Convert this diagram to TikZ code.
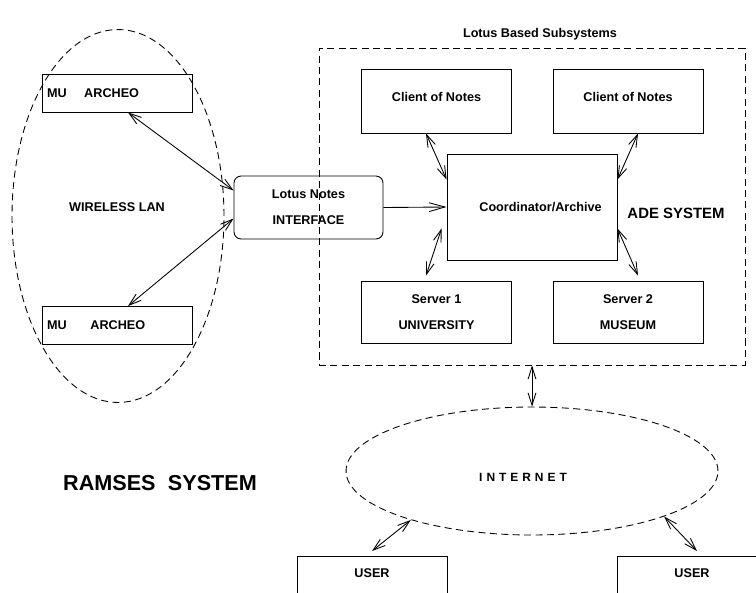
\documentclass[tikz,border=0pt]{standalone}
\usepackage{fontspec}
\setmainfont{Liberation Sans}
\usetikzlibrary{shapes.geometric,arrows.meta,calc}
\newcommand{\txtS}{\fontsize{6.8}{8}\selectfont\bfseries}
\newcommand{\txtM}{\fontsize{7.2}{8.6}\selectfont\bfseries}
\newcommand{\txtL}{\fontsize{8.5}{10}\selectfont\bfseries}
\newcommand{\txtXL}{\fontsize{12.3}{14}\selectfont\bfseries}
\tikzset{
  nd_box/.style={
    rectangle, draw, line width=0.5pt,
    minimum width=3cm, align=center,
    inner sep=1pt, font=\txtM},
  nd_mu/.style={
    rectangle, draw, line width=0.5pt,
    minimum height=0.76cm, text width=2.8cm, inner xsep=0.1cm,
    align=left, font=\txtM},
  nd_if/.style={
    nd_box, rounded corners=4pt,
    minimum width=2.98cm, minimum height=1.26cm},
  nd_user/.style={
    nd_box, anchor=north, text height=11.2pt, text depth=30pt},
  nd_cloud/.style={
    ellipse, draw, line width=0.5pt,
    dash pattern=on 4pt off 2.5pt, inner sep=0pt},
  nd_area/.style={
    rectangle, draw, line width=0.5pt,
    dash pattern=on 4pt off 2.5pt, inner sep=0pt,
    minimum width=8.52cm, minimum height=6.34cm},
  nd_txt/.style={inner sep=0pt, font=\txtM},
  arr/.style={-{Straight Barb[length=9pt,width=5pt]},line width=0.5pt},
  dbl/.style={{Straight Barb[length=7pt,width=4.5pt]}-{Straight Barb[length=7pt,width=4.5pt]},line width=0.5pt},
}

\begin{document}
\begin{tikzpicture}[x=0.02cm,y=-0.02cm]

\useasboundingbox (0,0) rectangle (756,592);
\clip (0,0) rectangle (756,592);

%% wireless side
\node[nd_cloud, minimum width=4.24cm, minimum height=7.46cm] at (118,216) (WL){};
\node[nd_txt] at (117,207) (WLt){WIRELESS LAN};
\node[nd_mu] at (117,93)    (MU1){MU\hspace{10pt}ARCHEO};
\node[nd_mu] at (117,325.5) (MU2){MU\hspace{13.5pt}ARCHEO};
\node[nd_if] at (308.5,207.5) (IF){Lotus Notes\\[6pt]INTERFACE};

%% lotus subsystems
\node[nd_area] at (532,206.5) (ADE){};
\node[nd_txt] at (540,34) (ADEt){Lotus Based Subsystems};
\node[nd_txt, font=\txtL] at (676,213) (ADEs){ADE SYSTEM};
\node[nd_box, minimum height=1.28cm, text depth=4.5pt] at (436.5,101) (CL1){Client of Notes};
\node[nd_box, minimum height=1.28cm, text depth=4.5pt] at (628,101)   (CL2){Client of Notes};
\node[nd_box, minimum width=3.4cm, minimum height=2.12cm] at (532,207) (CO){\hspace{9.7pt}Coordinator/Archive};
\node[nd_box, minimum height=1.24cm] at (436.5,312) (SV1){Server 1\\[6pt]UNIVERSITY};
\node[nd_box, minimum height=1.24cm] at (628,312)   (SV2){Server 2\\[6pt]MUSEUM};

%% internet
\node[nd_cloud, minimum width=7.44cm, minimum height=2.56cm] at (532,471) (NET){};
\node[nd_txt, font=\txtS] at (523,477) (NETt){I\,\,N\,\,T\,\,E\,\,R\,\,N\,\,E\,\,T};
\node[nd_user] at (372,556) (US1){USER};
\node[nd_user] at (692,556) (US2){USER};

\node[nd_txt, font=\txtXL] at (160,483) (RAM){RAMSES\hspace{7pt}SYSTEM};

%% connectors
\draw[dbl] ($(MU1.south)+(11,0)$) -- ($(IF.west)+(0,-17)$);
\draw[dbl] ($(MU2.north)+(11,0)$) -- ($(IF.west)+(0,11)$);
\draw[arr] (IF.east) -- (CO.west);

\draw[dbl] ($(CL1.south)+(-10.5,0)$) -- ($(CO.north west)+(0,26)$);
\draw[dbl] ($(CL2.south)+(10,0)$)    -- ($(CO.north east)+(0,26)$);
\draw[dbl] ($(SV1.north)+(-10.5,-5)$) -- ($(CO.south west)+(-5,-32)$);
\draw[dbl] ($(SV2.north)+(10,-5)$)    -- ($(CO.south east)+(0,-32)$);

\draw[dbl] (ADE.south) -- (NET.north);
\draw[dbl] ($(US1.north)+(0,-5)$) -- (NET.202);
\draw[dbl] (NET.341) -- ($(US2.north)+(5,-5)$);

\end{tikzpicture}
\end{document}
